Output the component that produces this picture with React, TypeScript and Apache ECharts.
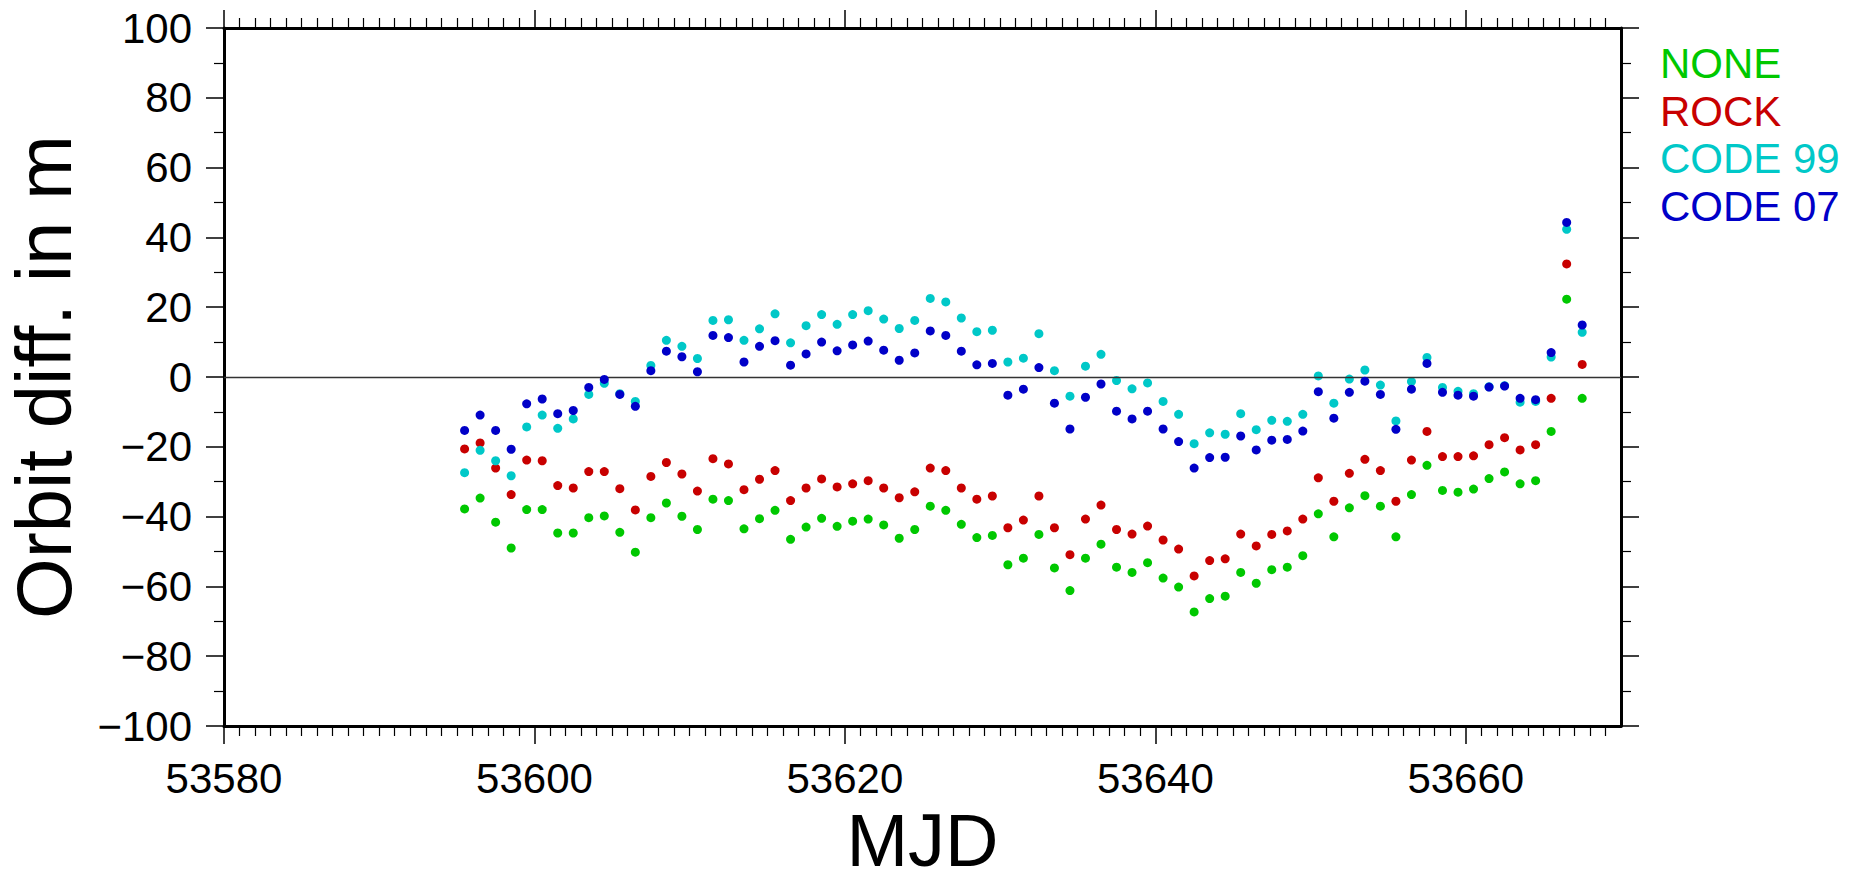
import React, { useEffect, useRef } from 'react';
import * as echarts from 'echarts';

const MJD = [
  53595.5, 53596.5, 53597.5, 53598.5, 53599.5, 53600.5, 53601.5, 53602.5, 53603.5, 53604.5,
  53605.5, 53606.5, 53607.5, 53608.5, 53609.5, 53610.5, 53611.5, 53612.5, 53613.5, 53614.5,
  53615.5, 53616.5, 53617.5, 53618.5, 53619.5, 53620.5, 53621.5, 53622.5, 53623.5, 53624.5,
  53625.5, 53626.5, 53627.5, 53628.5, 53629.5, 53630.5, 53631.5, 53632.5, 53633.5, 53634.5,
  53635.5, 53636.5, 53637.5, 53638.5, 53639.5, 53640.5, 53641.5, 53642.5, 53643.5, 53644.5,
  53645.5, 53646.5, 53647.5, 53648.5, 53649.5, 53650.5, 53651.5, 53652.5, 53653.5, 53654.5,
  53655.5, 53656.5, 53657.5, 53658.5, 53659.5, 53660.5, 53661.5, 53662.5, 53663.5, 53664.5,
  53665.5, 53666.5, 53667.5,
];

const NONE = [
  -37.8, -34.7, -41.6, -49.0, -38.0, -38.0, -44.7, -44.7, -40.3, -39.8,
  -44.5, -50.2, -40.3, -36.1, -39.9, -43.7, -35.0, -35.4, -43.5, -40.6,
  -38.2, -46.5, -43.0, -40.5, -42.8, -41.3, -40.7, -42.4, -46.2, -43.7,
  -37.0, -38.2, -42.2, -46.0, -45.4, -53.8, -51.9, -45.1, -54.7, -61.2,
  -51.9, -47.9, -54.5, -56.0, -53.2, -57.6, -60.2, -67.3, -63.5, -62.8,
  -56.0, -59.1, -55.2, -54.5, -51.2, -39.2, -45.8, -37.5, -34.0, -37.0,
  -45.8, -33.7, -25.3, -32.5, -33.0, -32.1, -29.1, -27.2, -30.6, -29.7,
  -15.6, 22.3, -6.1,
];

const ROCK = [
  -20.6, -18.9, -26.1, -33.7, -23.8, -24.0, -31.1, -31.8, -27.1, -27.1,
  -32.0, -38.1, -28.5, -24.5, -27.8, -32.7, -23.4, -24.9, -32.3, -29.3,
  -26.8, -35.4, -31.8, -29.2, -31.5, -30.6, -29.7, -31.8, -34.6, -32.9,
  -26.1, -26.8, -31.8, -35.0, -34.1, -43.2, -41.0, -34.1, -43.2, -50.9,
  -40.7, -36.7, -43.7, -45.0, -42.7, -46.7, -49.3, -57.0, -52.6, -52.1,
  -45.0, -48.4, -45.1, -44.1, -40.7, -28.9, -35.6, -27.6, -23.6, -26.8,
  -35.6, -23.8, -15.6, -22.8, -22.8, -22.6, -19.4, -17.4, -20.9, -19.4,
  -6.1, 32.4, 3.6,
];

const CODE99 = [
  -27.4, -21.0, -24.0, -28.3, -14.3, -10.9, -14.7, -12.0, -5.0, -1.8,
  -4.8, -7.0, 3.3, 10.5, 8.8, 5.3, 16.2, 16.4, 10.5, 13.8,
  18.1, 9.8, 14.7, 17.9, 15.1, 17.9, 19.0, 16.6, 13.9, 16.2,
  22.5, 21.5, 16.9, 13.0, 13.4, 4.3, 5.4, 12.4, 1.8, -5.5,
  3.1, 6.5, -1.0, -3.4, -1.7, -7.0, -10.7, -19.1, -16.0, -16.4,
  -10.5, -15.1, -12.4, -12.7, -10.7, 0.3, -7.5, -0.6, 2.0, -2.3,
  -12.6, -1.3, 5.6, -3.0, -4.1, -4.8, -2.8, -2.5, -7.2, -7.0,
  5.7, 42.3, 12.8,
];

const CODE07 = [
  -15.3, -10.9, -15.3, -20.7, -7.7, -6.3, -10.5, -9.6, -3.0, -0.7,
  -5.0, -8.4, 1.8, 7.4, 5.8, 1.5, 11.9, 11.3, 4.3, 8.8,
  10.4, 3.4, 6.6, 10.0, 7.5, 9.2, 10.3, 7.7, 4.8, 6.9,
  13.2, 11.9, 7.4, 3.5, 3.9, -5.2, -3.5, 2.7, -7.5, -14.9,
  -5.8, -2.0, -9.8, -12.0, -9.8, -14.9, -18.5, -26.1, -23.1, -23.0,
  -16.9, -20.9, -18.1, -17.9, -15.5, -4.2, -11.8, -4.4, -1.2, -5.0,
  -15.0, -3.5, 3.9, -4.4, -5.2, -5.5, -2.9, -2.6, -6.1, -6.5,
  7.0, 44.3, 14.9,
];

const X_TICKS = [53580, 53600, 53620, 53640, 53660];
const SERIES_NAMES = ['NONE', 'ROCK', 'CODE 99', 'CODE 07'];
const SERIES_VALUES = [NONE, ROCK, CODE99, CODE07];
const COLORS = ['#00c800', '#c80000', '#00c8c8', '#0000c8'];
const LEGEND_Y = [63, 111, 158, 206];

export default function App() {
  const ref = useRef<HTMLDivElement>(null);

  useEffect(() => {
    if (!ref.current) return;
    const chart = echarts.init(ref.current, null, { renderer: 'svg' });
    const font = 'Liberation Sans';
    const black = '#000';
    const minus = (v: number) => String(v).replace('-', '\u2212');

    const xCommon = {
      type: 'value',
      min: 53580,
      max: 53670,
      interval: 20,
      axisLine: { show: true, onZero: false, lineStyle: { color: black, width: 3 } },
      axisTick: { show: true, length: 18, customValues: X_TICKS, lineStyle: { color: black, width: 1.5 } },
      minorTick: { show: true, splitNumber: 20, length: 10, lineStyle: { color: black, width: 1.2 } },
      splitLine: { show: false },
      minorSplitLine: { show: false },
    };
    const yCommon = {
      type: 'value',
      min: -100,
      max: 100,
      interval: 20,
      axisLine: { show: true, onZero: false, lineStyle: { color: black, width: 3 } },
      axisTick: { show: true, length: 18, lineStyle: { color: black, width: 1.5 } },
      minorTick: { show: true, splitNumber: 2, length: 10, lineStyle: { color: black, width: 1.2 } },
      splitLine: { show: false },
      minorSplitLine: { show: false },
    };

    const series = SERIES_NAMES.map((name, k) => {
      const s: any = {
        name,
        type: 'scatter',
        xAxisIndex: 0,
        yAxisIndex: 0,
        symbol: 'circle',
        symbolSize: 9,
        itemStyle: { color: COLORS[k], opacity: 1 },
        data: MJD.map((x, i) => [x, SERIES_VALUES[k][i]]),
        z: 2 + k,
      };
      if (k === 0) {
        s.markLine = {
          silent: true,
          symbol: ['none', 'none'],
          label: { show: false },
          lineStyle: { color: '#333', width: 1.3, type: 'solid', opacity: 1 },
          data: [{ yAxis: 0 }],
        };
      }
      return s;
    });

    chart.setOption({
      animation: false,
      backgroundColor: '#fff',
      grid: {
        left: 224,
        right: 239,
        top: 28,
        bottom: 149,
        containLabel: false,
        outerBoundsMode: 'none',
      },
      xAxis: [
        {
          ...xCommon,
          position: 'bottom',
          name: 'MJD',
          nameLocation: 'middle',
          nameGap: 80,
          nameTextStyle: { fontSize: 74, lineHeight: 54, color: black, fontFamily: font },
          axisLabel: {
            show: true,
            fontSize: 42,
            color: black,
            fontFamily: font,
            margin: 31,
            customValues: X_TICKS,
            formatter: (v: number) => String(v),
          },
        },
        {
          ...xCommon,
          position: 'top',
          axisLabel: { show: false },
        },
      ],
      yAxis: [
        {
          ...yCommon,
          position: 'left',
          name: 'Orbit diff. in m',
          nameLocation: 'middle',
          nameGap: 141,
          nameTextStyle: { fontSize: 78, color: black, fontFamily: font },
          axisLabel: {
            show: true,
            fontSize: 42,
            color: black,
            fontFamily: font,
            margin: 32,
            formatter: minus,
          },
        },
        {
          ...yCommon,
          position: 'right',
          axisLabel: { show: false },
        },
      ],
      graphic: SERIES_NAMES.map((name, k) => ({
        type: 'text',
        x: 1660,
        y: LEGEND_Y[k],
        silent: true,
        style: {
          text: name,
          fill: COLORS[k],
          fontSize: 42,
          fontFamily: font,
          align: 'left',
          verticalAlign: 'middle',
        },
      })),
      series,
    });

    return () => chart.dispose();
  }, []);

  return (
    <div
      ref={ref}
      style={{ position: 'fixed', left: 0, top: 0, width: 1860, height: 875, background: '#fff' }}
    />
  );
}
